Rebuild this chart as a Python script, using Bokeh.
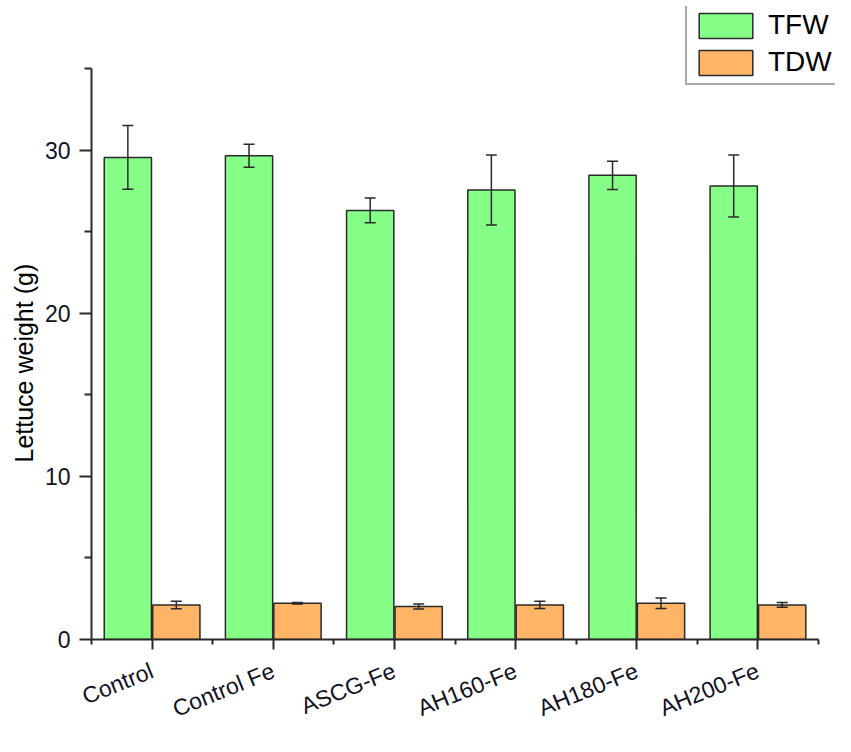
from bokeh.plotting import figure
from bokeh.models import ColumnDataSource, Range1d, FixedTicker, Whisker, TeeHead, Legend, LegendItem, Title
from bokeh.transform import dodge
from bokeh.embed import file_html
from bokeh.resources import INLINE
import math

categories = ["Control", "Control Fe", "ASCG-Fe", "AH160-Fe", "AH180-Fe", "AH200-Fe"]
tfw = [29.55, 29.65, 26.3, 27.55, 28.45, 27.8]
tfw_err = [1.95, 0.7, 0.76, 2.15, 0.87, 1.9]
tdw = [2.12, 2.22, 2.02, 2.12, 2.22, 2.12]
tdw_err = [0.23, 0.05, 0.15, 0.22, 0.32, 0.15]
series_names = ["TFW", "TDW"]
y_label = "Lettuce weight (g)"
y_major_ticks = [0, 10, 20, 30]
y_minor_ticks = [5, 15, 25, 35]

GREEN = "#86FF86"
ORANGE = "#FFB466"
EDGE = "#2a2a2a"
TXT = "#111122"
FONT = "Liberation Sans"

xs = list(range(len(categories)))
src = ColumnDataSource(data=dict(
    x=xs,
    tfw=tfw,
    tdw=tdw,
    tfw_up=[v + e for v, e in zip(tfw, tfw_err)],
    tfw_lo=[v - e for v, e in zip(tfw, tfw_err)],
    tdw_up=[v + e for v, e in zip(tdw, tdw_err)],
    tdw_lo=[v - e for v, e in zip(tdw, tdw_err)],
))

p = figure(width=835, height=736, output_backend="svg", toolbar_location=None,
           x_range=Range1d(-0.5, 5.64), y_range=Range1d(0, 38.8),
           min_border_left=91, min_border_right=0, min_border_top=6, min_border_bottom=60)
p.outline_line_color = None
p.xgrid.visible = False
p.ygrid.visible = False
p.background_fill_color = "white"

r1 = p.vbar(x=dodge("x", -0.2), top="tfw", width=0.39, source=src,
            fill_color=GREEN, line_color=EDGE, line_width=1.5)
r2 = p.vbar(x=dodge("x", 0.2), top="tdw", width=0.39, source=src,
            fill_color=ORANGE, line_color=EDGE, line_width=1.5)

for base, up, lo in [(dodge("x", -0.2), "tfw_up", "tfw_lo"), (dodge("x", 0.2), "tdw_up", "tdw_lo")]:
    w = Whisker(base=base, upper=up, lower=lo, source=src,
                line_color=EDGE, line_width=1.5, level="annotation",
                upper_head=TeeHead(size=11, line_color=EDGE, line_width=1.5),
                lower_head=TeeHead(size=11, line_color=EDGE, line_width=1.5))
    p.add_layout(w)

# x axis
xa = p.xaxis[0]
xa.ticker = FixedTicker(ticks=xs, minor_ticks=[i - 0.5 for i in range(len(categories) + 1)])
xa.major_label_overrides = {i: c for i, c in enumerate(categories)}
xa.bounds = (-0.5, len(categories) - 0.5)
xa.major_label_orientation = math.radians(22)
xa.major_label_text_font = FONT
xa.major_label_text_font_size = "23px"
xa.major_label_text_color = TXT
xa.major_label_standoff = 20
xa.axis_line_width = 2
xa.axis_line_color = EDGE
xa.major_tick_line_width = 2
xa.major_tick_line_color = EDGE
xa.minor_tick_line_width = 2
xa.minor_tick_line_color = EDGE
xa.major_tick_in = 0
xa.major_tick_out = 10
xa.minor_tick_in = 0
xa.minor_tick_out = 5

# y axis
ya = p.yaxis[0]
ya.ticker = FixedTicker(ticks=y_major_ticks, minor_ticks=y_minor_ticks)
ya.bounds = (0, 35)
ya.major_label_text_font = FONT
ya.major_label_text_font_size = "23px"
ya.major_label_text_color = TXT
ya.major_label_standoff = 9
ya.axis_line_width = 2
ya.axis_line_color = EDGE
ya.major_tick_line_width = 2
ya.major_tick_line_color = EDGE
ya.minor_tick_line_width = 2
ya.minor_tick_line_color = EDGE
ya.major_tick_in = 0
ya.major_tick_out = 12
ya.minor_tick_in = 0
ya.minor_tick_out = 7

ylab = Title(text=y_label, align="left", offset=177, standoff=8,
             text_font=FONT, text_font_size="25px", text_font_style="normal",
             text_color="black")
p.add_layout(ylab, "left")

legend = Legend(items=[LegendItem(label=series_names[0], renderers=[r1]),
                       LegendItem(label=series_names[1], renderers=[r2])],
                location=(594, 554))
legend.margin = 0
legend.padding = 5
legend.spacing = 5
legend.glyph_width = 67
legend.glyph_height = 31
legend.label_standoff = 9
legend.label_text_font = FONT
legend.label_text_font_size = "28px"
legend.label_text_color = "black"
legend.label_height = 31
legend.label_width = 64
legend.border_line_color = "#555555"
legend.border_line_width = 2
legend.background_fill_alpha = 1
p.add_layout(legend)

open("out.html", "w").write(file_html(p, INLINE))
